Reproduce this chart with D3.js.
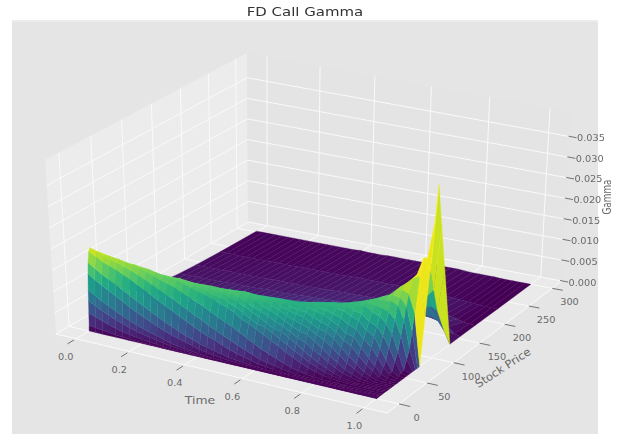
<!doctype html>
<html>
<head>
<meta charset="UTF-8">
<script src="https://d3js.org/d3.v7.min.js"></script>
<style>
	body { margin: 0; background: #fff; }
	svg { display: block; filter: blur(0.55px); }
</style>
</head>
<body>
	<svg id="chartWrapper" width="643" height="434"></svg>

	<script>
		const timeValues = [0, .025, .05, .075, .1, .125, .15, .175, .2, .225, .25, .275, .3, .325, .35, .375, .4, .425, .45, .475, .5, .525, .55, .575, .6, .625, .65, .675, .7, .725, .75, .775, .8, .825, .85, .875, .9, .92, .94, .96, .98, 1];
		const priceValues = [0, .5, 1, 1.5, 2, 3, 4, 6, 8, 11, 15, 17.5, 20, 23, 26, 29.5, 33, 37, 41, 45.5, 50, 55, 60, 65, 70, 74, 78, 86, 93, 100, 106, 113, 121, 135, 155, 185, 230, 300];

		// one row per time value, one entry per price value
		const gammaValues = [
			[0,.0013,.0042,.0070,.0096,.0133,.0159,.0184,.0190,.0184, .0168,.0158,.0147,.0134,.0122,.0111,.0101,.0090,.0080,.0071,.0063,.0056,.0050,.0045,.0040,.0037,.0034, .0029,.0025,.0023,.0020,.0018,.0016,.0013,.0010,.0007,.0004,.0002],
			[0,.0011,.0036,.0062,.0086,.0122,.0148,.0175,.0184,.0181, .0168,.0158,.0147,.0136,.0124,.0113,.0102,.0091,.0081,.0072,.0064,.0057,.0051,.0046,.0041,.0038,.0035, .0030,.0026,.0024,.0021,.0019,.0016,.0013,.0010,.0007,.0004,.0002],
			[0,.0009,.0030,.0054,.0076,.0112,.0138,.0166,.0177,.0178, .0167,.0157,.0147,.0136,.0125,.0114,.0103,.0092,.0082,.0073,.0065,.0058,.0052,.0047,.0042,.0038,.0035, .0030,.0026,.0024,.0021,.0019,.0016,.0013,.0010,.0007,.0004,.0002],
			[0,.0007,.0025,.0047,.0068,.0104,.0130,.0160,.0173,.0176, .0167,.0157,.0148,.0137,.0126,.0115,.0104,.0094,.0084,.0075,.0067,.0060,.0053,.0048,.0043,.0039,.0036, .0031,.0027,.0025,.0022,.0020,.0017,.0014,.0011,.0007,.0004,.0002],
			[0,.0005,.0020,.0040,.0060,.0095,.0121,.0154,.0169,.0174, .0166,.0157,.0148,.0137,.0127,.0116,.0105,.0095,.0085,.0076,.0068,.0061,.0054,.0049,.0044,.0040,.0037, .0032,.0028,.0025,.0022,.0020,.0017,.0014,.0011,.0007,.0004,.0002],
			[0,.0004,.0016,.0034,.0052,.0086,.0112,.0146,.0163,.0171, .0165,.0157,.0149,.0139,.0129,.0118,.0107,.0097,.0088,.0079,.0070,.0063,.0056,.0050,.0045,.0041,.0038, .0033,.0029,.0026,.0023,.0021,.0018,.0014,.0011,.0008,.0004,.0002],
			[0,.0003,.0013,.0029,.0045,.0077,.0103,.0139,.0158,.0168, .0165,.0157,.0150,.0140,.0131,.0120,.0110,.0100,.0091,.0082,.0073,.0066,.0059,.0053,.0047,.0043,.0040, .0035,.0031,.0027,.0024,.0022,.0019,.0015,.0011,.0008,.0004,.0002],
			[0,.0002,.0010,.0024,.0039,.0068,.0094,.0130,.0151,.0164, .0163,.0156,.0150,.0141,.0132,.0122,.0112,.0102,.0093,.0084,.0075,.0067,.0060,.0054,.0048,.0044,.0041, .0036,.0032,.0027,.0025,.0022,.0019,.0016,.0012,.0008,.0004,.0002],
			[0,.0001,.0008,.0020,.0033,.0060,.0085,.0122,.0144,.0160, .0162,.0156,.0151,.0142,.0134,.0124,.0114,.0105,.0096,.0087,.0078,.0070,.0062,.0056,.0050,.0046,.0043, .0037,.0033,.0028,.0026,.0023,.0020,.0017,.0013,.0008,.0005,.0002],
			[0,.0001,.0006,.0017,.0028,.0053,.0076,.0113,.0136,.0154, .0158,.0154,.0150,.0142,.0135,.0125,.0116,.0107,.0098,.0088,.0079,.0071,.0064,.0058,.0052,.0048,.0044, .0038,.0033,.0030,.0027,.0024,.0020,.0017,.0013,.0008,.0005,.0002],
			[0,.0001,.0005,.0014,.0024,.0046,.0068,.0104,.0128,.0148, .0155,.0152,.0150,.0143,.0136,.0127,.0119,.0109,.0100,.0090,.0081,.0073,.0066,.0060,.0054,.0050,.0046, .0040,.0034,.0031,.0028,.0025,.0021,.0017,.0013,.0009,.0005,.0002],
			[0,0,.0003,.0011,.0019,.0039,.0060,.0095,.0120,.0143, .0153,.0151,.0150,.0144,.0138,.0129,.0121,.0112,.0103,.0093,.0084,.0076,.0069,.0062,.0056,.0052,.0048, .0041,.0035,.0032,.0029,.0025,.0022,.0018,.0013,.0009,.0005,.0002],
			[0,0,.0002,.0008,.0014,.0033,.0052,.0087,.0113,.0138, .0151,.0151,.0151,.0145,.0140,.0132,.0124,.0115,.0106,.0096,.0087,.0079,.0072,.0065,.0058,.0054,.0050, .0043,.0037,.0033,.0030,.0026,.0023,.0019,.0014,.0010,.0006,.0002],
			[0,0,.0001,.0006,.0011,.0028,.0045,.0078,.0104,.0130, .0146,.0148,.0149,.0145,.0140,.0133,.0126,.0117,.0108,.0099,.0090,.0082,.0074,.0067,.0060,.0056,.0052, .0044,.0039,.0034,.0031,.0027,.0024,.0019,.0015,.0010,.0006,.0002],
			[0,0,.0001,.0005,.0009,.0024,.0038,.0070,.0096,.0123, .0141,.0144,.0147,.0144,.0141,.0135,.0128,.0120,.0111,.0102,.0093,.0085,.0077,.0070,.0063,.0058,.0054, .0046,.0041,.0036,.0033,.0029,.0025,.0020,.0016,.0010,.0006,.0002],
			[0,0,.0001,.0003,.0007,.0019,.0032,.0061,.0087,.0116, .0136,.0141,.0145,.0144,.0142,.0136,.0130,.0122,.0114,.0105,.0096,.0087,.0079,.0072,.0065,.0060,.0056, .0048,.0042,.0037,.0034,.0030,.0026,.0021,.0016,.0010,.0006,.0002],
			[0,0,.0001,.0002,.0005,.0014,.0026,.0053,.0079,.0109, .0132,.0138,.0144,.0144,.0143,.0138,.0132,.0125,.0117,.0109,.0100,.0091,.0082,.0075,.0068,.0063,.0058, .0051,.0044,.0039,.0036,.0031,.0028,.0022,.0016,.0010,.0006,.0003],
			[0,0,0,.0001,.0003,.0011,.0022,.0046,.0070,.0100, .0126,.0133,.0140,.0141,.0142,.0138,.0134,.0127,.0120,.0112,.0103,.0095,.0086,.0078,.0071,.0066,.0061, .0053,.0046,.0041,.0038,.0033,.0029,.0023,.0017,.0011,.0006,.0002],
			[0,0,0,.0001,.0002,.0008,.0018,.0040,.0062,.0092, .0120,.0129,.0137,.0140,.0142,.0139,.0136,.0130,.0124,.0116,.0107,.0099,.0090,.0082,.0074,.0069,.0064, .0055,.0049,.0043,.0040,.0035,.0030,.0024,.0018,.0012,.0006,.0002],
			[0,0,0,0,.0001,.0006,.0014,.0033,.0054,.0084, .0114,.0123,.0133,.0137,.0141,.0139,.0137,.0132,.0127,.0119,.0110,.0102,.0093,.0085,.0078,.0073,.0068, .0058,.0052,.0046,.0042,.0037,.0032,.0026,.0019,.0012,.0007,.0002],
			[0,0,0,0,.0001,.0004,.0010,.0026,.0046,.0076, .0106,.0117,.0128,.0135,.0141,.0140,.0139,.0134,.0129,.0121,.0113,.0105,.0096,.0089,.0083,.0077,.0071, .0061,.0055,.0049,.0044,.0039,.0034,.0028,.0020,.0013,.0008,.0003],
			[0,0,0,0,0,.0003,.0008,.0021,.0039,.0067, .0094,.0107,.0119,.0127,.0134,.0135,.0136,.0132,.0128,.0121,.0114,.0106,.0097,.0090,.0086,.0080,.0074, .0064,.0057,.0051,.0046,.0041,.0035,.0028,.0021,.0013,.0008,.0003],
			[0,0,0,0,0,.0003,.0006,.0017,.0032,.0058, .0088,.0097,.0111,.0120,.0129,.0132,.0135,.0132,.0129,.0123,.0117,.0109,.0100,.0093,.0086,.0084,.0078, .0068,.0060,.0054,.0049,.0044,.0037,.0029,.0022,.0014,.0008,.0003],
			[0,0,0,0,0,.0002,.0004,.0012,.0025,.0048, .0078,.0088,.0102,.0113,.0124,.0129,.0133,.0132,.0130,.0125,.0119,.0111,.0103,.0096,.0088,.0084,.0082, .0071,.0063,.0056,.0051,.0045,.0038,.0031,.0022,.0014,.0008,.0003],
			[0,0,0,0,0,.0001,.0003,.0008,.0018,.0039, .0069,.0085,.0093,.0106,.0118,.0124,.0130,.0130,.0130,.0126,.0121,.0113,.0105,.0098,.0090,.0086,.0082, .0074,.0066,.0059,.0053,.0047,.0040,.0033,.0023,.0014,.0008,.0003],
			[0,0,0,0,0,.0001,.0002,.0006,.0014,.0032, .0059,.0075,.0083,.0096,.0109,.0117,.0124,.0126,.0128,.0125,.0122,.0115,.0108,.0101,.0093,.0088,.0083, .0078,.0070,.0062,.0056,.0050,.0042,.0034,.0024,.0015,.0008,.0003],
			[0,0,0,0,0,.0001,.0001,.0004,.0011,.0025, .0050,.0065,.0081,.0090,.0100,.0109,.0118,.0122,.0126,.0125,.0123,.0117,.0111,.0104,.0097,.0090,.0084, .0083,.0074,.0066,.0059,.0053,.0045,.0036,.0025,.0016,.0008,.0003],
			[0,0,0,0,0,0,.0001,.0002,.0007,.0018, .0040,.0055,.0070,.0080,.0091,.0102,.0114,.0120,.0126,.0126,.0126,.0121,.0116,.0109,.0102,.0095,.0089, .0087,.0078,.0069,.0062,.0055,.0047,.0037,.0026,.0016,.0008,.0003],
			[0,0,0,0,0,0,0,.0001,.0004,.0012, .0031,.0045,.0059,.0071,.0083,.0097,.0110,.0118,.0126,.0128,.0129,.0125,.0121,.0114,.0107,.0100,.0094, .0082,.0082,.0073,.0066,.0058,.0050,.0039,.0027,.0016,.0008,.0003],
			[0,0,0,0,0,0,0,.0001,.0002,.0008, .0023,.0035,.0047,.0063,.0080,.0090,.0100,.0110,.0121,.0125,.0129,.0127,.0124,.0118,.0112,.0106,.0100, .0087,.0087,.0077,.0069,.0061,.0052,.0041,.0028,.0016,.0007,.0003],
			[0,0,0,0,0,0,0,0,.0001,.0004, .0015,.0025,.0036,.0052,.0068,.0080,.0091,.0104,.0117,.0123,.0129,.0129,.0128,.0122,.0117,.0111,.0105, .0093,.0082,.0081,.0073,.0065,.0055,.0043,.0030,.0016,.0007,.0003],
			[0,0,0,0,0,0,0,0,.0001,.0002, .0010,.0018,.0027,.0041,.0055,.0071,.0088,.0098,.0108,.0118,.0127,.0129,.0130,.0126,.0122,.0116,.0111, .0099,.0088,.0087,.0078,.0069,.0058,.0045,.0030,.0016,.0007,.0002],
			[0,0,0,0,0,0,0,0,0,.0001, .0005,.0011,.0018,.0030,.0042,.0059,.0076,.0087,.0099,.0112,.0125,.0129,.0133,.0130,.0128,.0123,.0118, .0106,.0094,.0083,.0084,.0073,.0062,.0047,.0031,.0016,.0007,.0001],
			[0,0,0,0,0,0,0,0,0,0, .0003,.0007,.0011,.0020,.0030,.0044,.0059,.0072,.0085,.0101,.0117,.0125,.0133,.0133,.0134,.0130,.0127, .0115,.0103,.0091,.0081,.0079,.0067,.0050,.0031,.0016,.0006,.0001],
			[0,0,0,0,0,0,0,0,0,0, .0001,.0002,.0004,.0011,.0018,.0030,.0043,.0062,.0081,.0095,.0110,.0122,.0134,.0137,.0141,.0138,.0136, .0125,.0113,.0099,.0089,.0085,.0072,.0053,.0032,.0016,.0005,.0001],
			[0,0,0,0,0,0,0,0,0,0, 0,.0001,.0002,.0006,.0010,.0019,.0028,.0044,.0060,.0075,.0091,.0108,.0126,.0135,.0144,.0144,.0145, .0136,.0125,.0110,.0098,.0083,.0077,.0055,.0032,.0014,.0004,.0001],
			[0,0,0,0,0,0,0,0,0,0, 0,0,0,.0001,.0003,.0008,.0013,.0026,.0039,.0060,.0082,.0100,.0119,.0133,.0147,.0150,.0154, .0147,.0137,.0121,.0107,.0091,.0083,.0057,.0031,.0012,.0003,0],
			[0,0,0,0,0,0,0,0,0,0, 0,0,0,.0001,.0002,.0004,.0007,.0015,.0023,.0040,.0057,.0082,.0107,.0129,.0150,.0159,.0168, .0169,.0161,.0146,.0130,.0110,.0088,.0057,.0028,.0009,.0002,0],
			[0,0,0,0,0,0,0,0,0,0, 0,0,0,0,0,0,.0001,.0004,.0007,.0019,.0032,.0058,.0085,.0114,.0142,.0157,.0172, .0181,.0175,.0160,.0142,.0118,.0092,.0056,.0024,.0006,.0001,0],
			[0,0,0,0,0,0,0,0,0,0, 0,0,0,0,0,0,0,0,.0001,.0005,.0009,.0027,.0046,.0079,.0113,.0140,.0166, .0196,.0198,.0184,.0161,.0130,.0096,.0049,.0017,.0002,0,0],
			[0,0,0,0,0,0,0,0,0,0, 0,0,0,0,0,0,0,0,0,0,0,.0003,.0006,.0026,.0047,.0085,.0123, .0204,.0241,.0233,.0199,.0146,.0089,.0029,.0004,0,0,0],
			[0,0,0,0,0,0,0,0,0,0, 0,0,0,0,0,0,0,0,0,0,0,0,0,0,0,0,0, .0110,.0210,.0320,.0405,.0300,.0190,0,0,0,0,0]
		];

		const timeTicks = [0, .2, .4, .6, .8, 1];
		const priceTicks = [0, 50, 100, 150, 200, 250, 300];
		const gammaTicks = [0, .005, .01, .015, .02, .025, .03, .035];

		(function(){

			const svg = d3.select("#chartWrapper");

			// data to unit box
			const xSca = d3.scaleLinear().domain([0, 1]).range([.067, .938]);
			const ySca = d3.scaleLinear().domain([0, 300]).range([.062, .938]);
			const zSca = d3.scaleLinear().domain([0, .041]).range([0, 1]);

			// colours saturate near the top of the ridge, the tip goes a bit greener
			const colorSca = d3.scaleLinear().domain([0, .0195, .024, .035]).range([0, .98, .98, .9]).clamp(true);

			// unit square -> quad, corners in order (0,0) (1,0) (1,1) (0,1)
			function quadMap(q){
				const dx1 = q[1][0] - q[2][0], dx2 = q[3][0] - q[2][0], sx = q[0][0] - q[1][0] + q[2][0] - q[3][0];
				const dy1 = q[1][1] - q[2][1], dy2 = q[3][1] - q[2][1], sy = q[0][1] - q[1][1] + q[2][1] - q[3][1];
				const den = dx1 * dy2 - dx2 * dy1;
				const g = (sx * dy2 - dx2 * sy) / den, h = (dx1 * sy - sx * dy1) / den;
				const a = q[1][0] - q[0][0] + g * q[1][0], b = q[3][0] - q[0][0] + h * q[3][0];
				const d = q[1][1] - q[0][1] + g * q[1][1], e = q[3][1] - q[0][1] + h * q[3][1];
				return function(u, v){
					const w = g * u + h * v + 1;
					return [(a * u + b * v + q[0][0]) / w, (d * u + e * v + q[0][1]) / w];
				};
			}

			const floorMap = quadMap([[56, 334], [387, 413], [562, 281], [248, 222]]);
			const topMap = quadMap([[45, 160], [389, 238], [572, 112], [247, 53]]);

			function project(u, v, w){
				const a = floorMap(u, v), b = topMap(u, v);
				return [a[0] + (b[0] - a[0]) * w, a[1] + (b[1] - a[1]) * w];
			}

			const line = d3.line();

			// figure background
			svg.append("rect").attr("x", 12).attr("y", 20).attr("width", 586).attr("height", 414).attr("fill", "#e5e5e5");
			svg.append("rect").attr("x", 12).attr("y", 20).attr("width", 586).attr("height", 2).attr("fill", "#ececec");

			// panes
			const panes = [
				{fill: "#ececec", pts: [[0, 0, 0], [0, 1, 0], [0, 1, 1], [0, 0, 1]]},
				{fill: "#e4e4e4", pts: [[0, 1, 0], [1, 1, 0], [1, 1, 1], [0, 1, 1]]},
				{fill: "#eaeaea", pts: [[0, 0, 0], [1, 0, 0], [1, 1, 0], [0, 1, 0]]}
			];
			svg.append("g").selectAll("path").data(panes).enter().append("path")
				.attr("d", function(d){ return line(d.pts.map(function(p){ return project(p[0], p[1], p[2]); })) + "Z"; })
				.attr("fill", function(d){ return d.fill; });

			// grid
			const gridLines = [];
			timeTicks.forEach(function(t){
				gridLines.push([[xSca(t), 0, 0], [xSca(t), 1, 0]]);
				gridLines.push([[xSca(t), 1, 0], [xSca(t), 1, 1]]);
			});
			priceTicks.forEach(function(s){
				gridLines.push([[0, ySca(s), 0], [1, ySca(s), 0]]);
				gridLines.push([[0, ySca(s), 0], [0, ySca(s), 1]]);
			});
			gammaTicks.forEach(function(z){
				gridLines.push([[0, 0, zSca(z)], [0, 1, zSca(z)]]);
				gridLines.push([[0, 1, zSca(z)], [1, 1, zSca(z)]]);
			});
			// front edges of the floor
			gridLines.push([[0, 0, 0], [1, 0, 0]]);
			gridLines.push([[1, 0, 0], [1, 1, 0]]);

			svg.append("g").selectAll("path").data(gridLines).enter().append("path")
				.attr("d", function(d){ return line(d.map(function(p){ return project(p[0], p[1], p[2]); })); })
				.attr("fill", "none")
				.attr("stroke", "#fafafa")
				.attr("stroke-width", 1);

			// surface facets, far ones first
			const lastStrip = timeValues.length - 2;
			const peakIndex = priceValues.indexOf(106);
			const lastRow = gammaValues[lastStrip + 1];
			const facets = [];
			for (let i = 0; i <= lastStrip; i++) {
				for (let j = 0; j < priceValues.length - 1; j++) {
					const corners = [[i, j], [i + 1, j], [i + 1, j + 1], [i, j + 1]].map(function(c){
						return [xSca(timeValues[c[0]]), ySca(priceValues[c[1]]), zSca(gammaValues[c[0]][c[1]])];
					});
					const zMean = d3.mean([gammaValues[i][j], gammaValues[i + 1][j], gammaValues[i + 1][j + 1], gammaValues[i][j + 1]]);
					const depth = d3.mean(corners, function(p){ return .433 * p[0] - .75 * p[1] + .375 * p[2]; });
					let shade = colorSca(zMean);
					// the last strip is one long flank on each side of the tip
					if (i === lastStrip && (lastRow[j] > 0 || lastRow[j + 1] > 0)) {
						shade = j < peakIndex ? .97 : .92;
					}
					facets.push({corners: corners, shade: shade, depth: depth});
				}
			}
			facets.sort(function(a, b){ return a.depth - b.depth; });

			svg.append("g").selectAll("path").data(facets).enter().append("path")
				.attr("d", function(d){ return line(d.corners.map(function(p){ return project(p[0], p[1], p[2]); })) + "Z"; })
				.attr("fill", function(d){ return d3.interpolateViridis(d.shade); })
				.attr("stroke", function(d){ return d3.rgb(d3.interpolateViridis(d.shade)).brighter(.15); })
				.attr("stroke-width", .35);

			// text helper, the picture is stretched sideways so glyphs get a scale
			function addText(x, y, str, size, sx, anchor, rot, fill){
				svg.append("text")
					.attr("transform", "translate(" + x + "," + y + ") rotate(" + (rot || 0) + ") scale(" + sx + ",1)")
					.attr("text-anchor", anchor || "middle")
					.attr("font-family", "DejaVu Sans")
					.attr("font-size", size)
					.attr("fill", fill || "#6a6a6a")
					.text(str);
			}

			const tickColor = "#555";
			function addMark(a, b){
				svg.append("path").attr("d", line([a, b])).attr("stroke", tickColor).attr("stroke-width", .8).attr("fill", "none");
			}

			timeTicks.forEach(function(t){
				const a = project(xSca(t), -.04, 0), b = project(xSca(t), -.01, 0);
				addMark(a, b);
				addText((a[0] + b[0]) / 2 - 5, (a[1] + b[1]) / 2 + 18, d3.format(".1f")(t), 8.5, 1.15);
			});
			priceTicks.forEach(function(s){
				const a = project(1, ySca(s), 0), b = project(1.03, ySca(s), 0);
				addMark(a, b);
				addText((a[0] + b[0]) / 2 + 12, (a[1] + b[1]) / 2 + 16, d3.format("d")(s), 8.5, 1.15);
			});
			gammaTicks.forEach(function(z){
				const p = project(1, 1, zSca(z));
				addMark([p[0] - 2, p[1] - .5], [p[0] + 6, p[1] + 1]);
				addText(p[0] + 6.5, p[1] + 4.5, d3.format(".3f")(z), 8.5, 1.15, "start");
			});

			addText(305, 16, "FD Call Gamma", 11.5, 1.3, "middle", 0, "#333");
			addText(200, 404, "Time", 11, 1.13);
			addText(505, 371, "Stock Price", 11, 1.05, "middle", -33);
			addText(611, 197, "Gamma", 12, .74, "middle", -90);

		})();
	</script>
</body>
</html>
